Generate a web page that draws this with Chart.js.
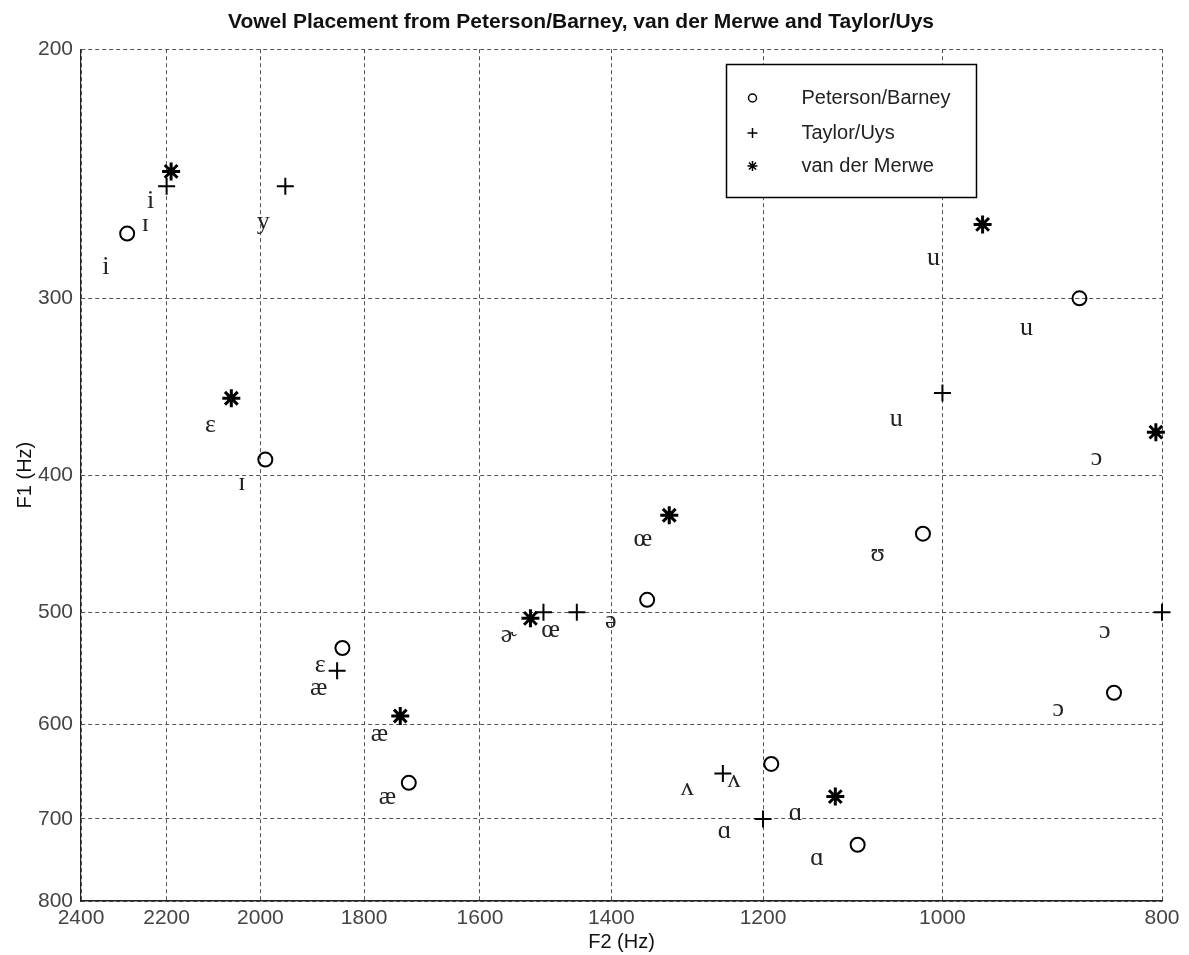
<!DOCTYPE html>
<html>
<head>
<meta charset="utf-8">
<title>Vowel Placement</title>
<script src="https://cdn.jsdelivr.net/npm/chart.js@4.4.1/dist/chart.umd.min.js"></script>
<style>
  body { margin: 0; background: #fff; }
  canvas { display: block; }
</style>
</head>
<body>
<canvas id="vowels" width="1189" height="955"></canvas>
<script>
// formant values (Hz) per study
const pbF2 = [2290, 1990, 1840, 1720, 1090, 840, 1020, 870, 1190, 1350];
const pbF1 = [270, 390, 530, 660, 730, 570, 440, 300, 640, 490];

const tuF2 = [2200, 1950, 1500, 1450, 1000, 800, 1850, 1250, 1200];
const tuF1 = [250, 250, 500, 500, 350, 500, 550, 650, 700];

const vdmF2 = [2190, 960, 2060, 1520, 805, 1320, 1735, 1115];
const vdmF1 = [244, 266, 353, 505, 373, 427, 592, 675];

// IPA symbols written next to the markers
const symbols = ["i", "ɪ", "i", "y", "ɛ", "ɪ", "u", "u", "u", "ɔ", "ɔ", "ɔ", "œ", "œ",
  "ʊ", "ə", "ɚ", "ɛ", "æ", "æ", "æ", "ʌ", "ʌ", "ɑ", "ɑ", "ɑ"];
const symF2 = [2340, 2248, 2236, 1994, 2104, 2038, 1009, 918, 1048, 855, 848, 889, 1356, 1489,
  1068, 1401, 1554, 1882, 1885, 1772, 1758, 1296, 1236, 1161, 1248, 1136];
const symF1 = [285, 266, 256, 265, 369, 405, 281, 315, 365, 389, 516, 585, 444, 515,
  455, 507, 519, 545, 566, 610, 676, 666, 657, 694, 714, 746];

const f2Ticks = [2400, 2200, 2000, 1800, 1600, 1400, 1200, 1000, 800];
const f1Ticks = [200, 300, 400, 500, 600, 700, 800];

function toPoints(xs, ys) {
  return xs.map((x, i) => ({ x: x, y: ys[i] }));
}

const sans = "'Liberation Sans', Arial, sans-serif";

const symbolLabels = {
  id: "symbolLabels",
  afterDatasetsDraw(chart) {
    const ctx = chart.ctx;
    const xs = chart.scales.x;
    const ys = chart.scales.y;
    ctx.save();
    ctx.font = "26px 'Liberation Serif', 'DejaVu Serif', serif";
    ctx.fillStyle = "#222";
    ctx.textAlign = "center";
    ctx.textBaseline = "middle";
    for (let i = 0; i < symbols.length; i++) {
      ctx.fillText(symbols[i], xs.getPixelForValue(symF2[i]), ys.getPixelForValue(symF1[i]));
    }
    ctx.restore();
  },
};

// boxed legend inside the plot, top right
const legendBox = {
  id: "legendBox",
  afterDatasetsDraw(chart) {
    const ctx = chart.ctx;
    const left = 726.5, top = 64.5, w = 250, h = 133;
    ctx.save();
    ctx.fillStyle = "#fff";
    ctx.fillRect(left, top, w, h);
    ctx.strokeStyle = "#000";
    ctx.lineWidth = 1.5;
    ctx.strokeRect(left, top, w, h);

    const rows = [98, 133, 166];
    const sizes = [4, 5, 5];
    chart.data.datasets.forEach((ds, i) => {
      Chart.helpers.drawPoint(ctx, {
        pointStyle: ds.pointStyle,
        radius: sizes[i],
        borderWidth: 1.2,
        rotation: 0,
      }, left + 26, rows[i]);
      ctx.strokeStyle = "#000";
      ctx.fillStyle = "#222";
      ctx.font = "20px " + sans;
      ctx.textAlign = "left";
      ctx.textBaseline = "middle";
      ctx.fillText(ds.label, left + 75, rows[i]);
    });
    ctx.restore();
  },
};

const gridStyle = {
  color: "#555",
  lineWidth: 1,
  drawTicks: false,
};

new Chart(document.getElementById("vowels"), {
  type: "scatter",
  data: {
    datasets: [
      {
        label: "Peterson/Barney",
        data: toPoints(pbF2, pbF1),
        pointStyle: "circle",
        pointRadius: 7,
        borderWidth: 2,
        borderColor: "#000",
        backgroundColor: "rgba(0,0,0,0)",
        clip: false,
      },
      {
        label: "Taylor/Uys",
        data: toPoints(tuF2, tuF1),
        pointStyle: "cross",
        pointRadius: 8.5,
        borderWidth: 2,
        borderColor: "#000",
        backgroundColor: "#000",
        clip: false,
      },
      {
        label: "van der Merwe",
        data: toPoints(vdmF2, vdmF1),
        pointStyle: "star",
        pointRadius: 9,
        borderWidth: 3,
        borderColor: "#000",
        backgroundColor: "#000",
        clip: false,
      },
    ],
  },
  options: {
    responsive: false,
    animation: false,
    layout: { padding: { left: 0, right: 27, top: 0, bottom: 0 } },
    plugins: {
      legend: { display: false },
      tooltip: { enabled: false },
      title: {
        display: true,
        text: "Vowel Placement from Peterson/Barney, van der Merwe and Taylor/Uys",
        color: "#111",
        font: { family: sans, size: 21, weight: "bold", lineHeight: 1.2 },
        padding: { top: 10, bottom: 14 },
      },
    },
    scales: {
      x: {
        type: "logarithmic",
        reverse: true,
        min: 800,
        max: 2400,
        afterBuildTicks: (s) => { s.ticks = f2Ticks.map((v) => ({ value: v })); },
        afterFit: (s) => { s.height = 54; },
        ticks: {
          autoSkip: false,
          maxRotation: 0,
          padding: 5,
          color: "#444",
          font: { family: sans, size: 21 },
          callback: (v) => String(v),
        },
        grid: gridStyle,
        border: { display: true, color: "#222", width: 1.5, dash: [4, 3] },
        title: {
          display: true,
          text: "F2 (Hz)",
          color: "#111",
          font: { family: sans, size: 20, lineHeight: 1.2 },
          padding: { top: 0, bottom: 1 },
        },
      },
      y: {
        type: "logarithmic",
        reverse: true,
        min: 200,
        max: 800,
        afterBuildTicks: (s) => { s.ticks = f1Ticks.map((v) => ({ value: v })); },
        afterFit: (s) => { s.width = 81; },
        ticks: {
          autoSkip: false,
          padding: 8,
          color: "#444",
          font: { family: sans, size: 21 },
          callback: (v) => String(v),
        },
        grid: gridStyle,
        border: { display: true, color: "#222", width: 1.2, dash: [4, 3] },
        title: {
          display: true,
          text: "F1 (Hz)",
          color: "#111",
          font: { family: sans, size: 20, lineHeight: 1.2 },
          padding: { top: 13, bottom: 0 },
        },
      },
    },
  },
  plugins: [symbolLabels, legendBox],
});
</script>
</body>
</html>
